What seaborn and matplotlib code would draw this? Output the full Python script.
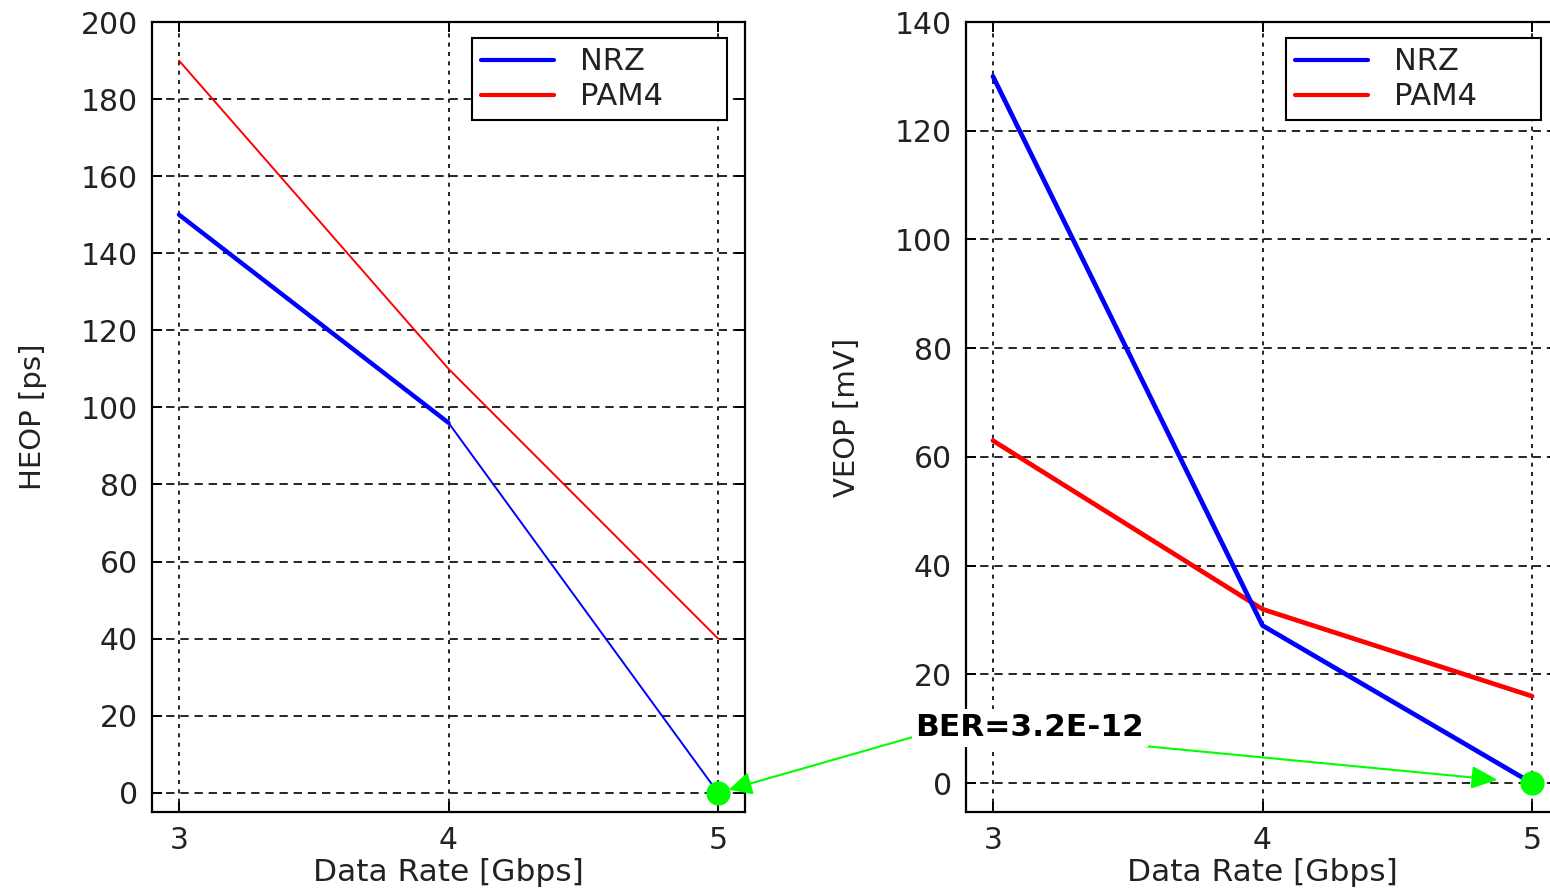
import matplotlib
matplotlib.use("Agg")
import matplotlib.pyplot as plt
import seaborn as sns
from matplotlib.lines import Line2D

# Eye-opening versus data rate for NRZ and PAM4 signalling
rates = [3, 4, 5]
heop_nrz = [150, 96, 0]
heop_pam4 = [190, 110, 40]
veop_nrz = [130, 29, 0]
veop_pam4 = [63, 32, 16]
heop_ticks = list(range(0, 201, 20))
veop_ticks = list(range(0, 141, 20))
series_names = ["NRZ", "PAM4"]
ber_label = "BER=3.2E-12"

sns.set_style("white")
plt.rcParams.update({
    "font.family": ["DejaVu Sans"],
    "font.size": 21,
    "axes.edgecolor": "black",
    "axes.linewidth": 1.6,
    "xtick.direction": "in",
    "ytick.direction": "in",
    "xtick.top": True,
    "ytick.right": True,
    "xtick.bottom": True,
    "ytick.left": True,
    "xtick.major.size": 7,
    "ytick.major.size": 7,
    "xtick.major.width": 1.4,
    "ytick.major.width": 1.4,
    "xtick.color": "black",
    "ytick.color": "black",
    "xtick.labelcolor": "#222222",
    "ytick.labelcolor": "#222222",
    "xtick.labelsize": 21.5,
    "ytick.labelsize": 21.5,
})

W, H = 1550, 893
fig = plt.figure(figsize=(W / 100, H / 100), dpi=100)
fig.patch.set_facecolor("white")
ax1 = fig.add_axes([152 / W, 1 - 812 / H, 593 / W, 790 / H])
ax2 = fig.add_axes([966 / W, 1 - 812 / H, 593 / W, 790 / H])

GREEN = "#00ff00"

# Left panel: horizontal eye opening
sns.lineplot(x=rates, y=heop_pam4, color="red", linewidth=1.4, ax=ax1)
sns.lineplot(x=rates, y=heop_nrz, color="blue", linewidth=1.4, ax=ax1)
sns.lineplot(x=rates[:2], y=heop_nrz[:2], color="blue", linewidth=3.2, ax=ax1)
sns.scatterplot(x=[rates[-1]], y=[heop_nrz[-1]], color=GREEN, s=260,
                edgecolor=GREEN, zorder=5, ax=ax1, clip_on=False)

# Right panel: vertical eye opening
sns.lineplot(x=rates, y=veop_pam4, color="red", linewidth=3.4, ax=ax2)
sns.lineplot(x=rates, y=veop_nrz, color="blue", linewidth=3.4, ax=ax2)
sns.scatterplot(x=[rates[-1]], y=[veop_nrz[-1]], color=GREEN, s=260,
                edgecolor=GREEN, zorder=5, ax=ax2, clip_on=False)

handles = [Line2D([], [], color="blue", linewidth=3.0),
           Line2D([], [], color="red", linewidth=3.0)]

for ax, ticks, ylim, ylabel in [
    (ax1, heop_ticks, (-5, 200), "HEOP [ps]"),
    (ax2, veop_ticks, (-5.3, 140), "VEOP [mV]"),
]:
    ax.set_xlim(2.9, 5.1)
    ax.set_ylim(*ylim)
    ax.set_xticks(rates)
    ax.set_yticks(ticks)
    ax.tick_params(axis="both", pad=10)
    ax.xaxis.grid(True, color="black", linewidth=1.2, linestyle=(0, (2.4, 3.2)))
    ax.yaxis.grid(True, color="black", linewidth=1.2, linestyle=(0, (5, 3.5)))
    ax.set_axisbelow(True)
    ax.set_xlabel("Data Rate [Gbps]", fontsize=22.5, color="#222222")
    ax.set_ylabel(ylabel, fontsize=21, color="#222222")
    ax.xaxis.set_label_coords(0.5, -0.058)
    ax.yaxis.set_label_coords(-0.177, 0.5)
    for s in ax.spines.values():
        s.set_visible(True)
        s.set_color("black")
    leg = ax.legend(handles, series_names, loc="upper left", mode="expand",
                    bbox_to_anchor=(0.5396, 0.9797, 0.43, 0.0),
                    frameon=True, fancybox=False, framealpha=1,
                    edgecolor="black", borderaxespad=0.0, handlelength=2.4,
                    handletextpad=0.85, labelspacing=0.2, borderpad=0.3,
                    fontsize=22)
    leg.get_frame().set_linewidth(1.5)
    for t in leg.get_texts():
        t.set_color("#222222")

# BER annotation shared by both panels
fig.text(1030 / W, 1 - 728 / H, ber_label, ha="center", va="center",
         fontsize=22.5, fontweight="bold", color="black", zorder=10,
         bbox=dict(facecolor="white", edgecolor="none", pad=3))

ax1.annotate("", xy=(rates[-1], heop_nrz[-1]), xycoords="data",
             xytext=(913, H - 737), textcoords="figure pixels",
             arrowprops=dict(arrowstyle="-|>,head_length=0.7,head_width=0.35",
                             color=GREEN, lw=1.5, shrinkA=0, shrinkB=8,
                             mutation_scale=20),
             annotation_clip=False)
ax2.annotate("", xy=(rates[-1], veop_nrz[-1]), xycoords="data",
             xytext=(1133, H - 745), textcoords="figure pixels",
             arrowprops=dict(arrowstyle="-|>,head_length=0.8,head_width=0.35",
                             color=GREEN, lw=1.5, shrinkA=0, shrinkB=25,
                             mutation_scale=20),
             annotation_clip=False)

fig.savefig("out.png", dpi=100, facecolor="white")
